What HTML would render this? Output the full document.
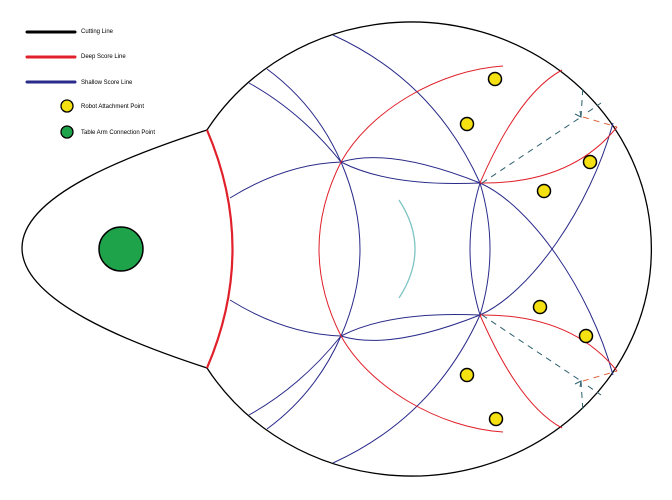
<!DOCTYPE html>
<html><head><meta charset="utf-8"><style>
html,body{margin:0;padding:0;background:#fff;}
svg{display:block;}
text{font-family:"Liberation Sans",sans-serif;font-size:6px;fill:#000;}
</style></head><body>
<svg width="672" height="500" viewBox="0 0 672 500" xmlns="http://www.w3.org/2000/svg">
<!-- legend -->
<line x1="27" y1="32" x2="75" y2="32" stroke="#000" stroke-width="3" stroke-linecap="round"/>
<line x1="27" y1="57" x2="75" y2="57" stroke="#e0202a" stroke-width="3" stroke-linecap="round"/>
<line x1="27" y1="82" x2="75" y2="82" stroke="#2a2a8a" stroke-width="3" stroke-linecap="round"/>
<text x="81" y="33">Cutting Line</text>
<text x="81" y="58">Deep Score Line</text>
<text x="81" y="84">Shallow Score Line</text>
<circle cx="67" cy="106" r="6" fill="#f5e012" stroke="#000" stroke-width="1.3"/>
<text x="81" y="108">Robot Attachment Point</text>
<circle cx="67" cy="132" r="6" fill="#1fa34a" stroke="#000" stroke-width="1.3"/>
<text x="81" y="134">Table Arm Connection Point</text>

<!-- cutting outline -->
<g fill="none" stroke="#000" stroke-width="1.3">
<path d="M207,130 A240,227 0 1 1 207,368"/>
<path d="M207,130 C130,155 22,195 22,248 C22,301 130,343 207,368"/>
</g>
<path d="M207,130 Q258,249 207,368" fill="none" stroke="#e0202a" stroke-width="2.2"/>
<circle cx="121" cy="249" r="22" fill="#1fa34a" stroke="#000" stroke-width="1.5"/>

<!-- shallow score lines -->
<g fill="none" stroke="#2a2a8a" stroke-width="1">
<path d="M249,83 Q301,112 341,162 Q389.5,187 480,183"/>
<path d="M249,415 Q301,386 341,336 Q389.5,311 480,315"/>
<path d="M230,198 Q285,164 341,162 Q389.5,147 480,183 C530,205 590,290 613,375"/>
<path d="M230,300 Q285,334 341,336 Q389.5,351 480,315 C530,293 590,208 613,123"/>
<path d="M267,69 Q316,105 341,162 Q379,250 341,336 Q316,393 267,429"/>
<path d="M333,35 Q434,81 480,183 Q500,249 480,315 Q434,417 333,463"/>
<path d="M480,183 Q460,249 480,315"/>
</g>

<!-- deep score lines -->
<g fill="none" stroke="#e0202a" stroke-width="1">
<path d="M503,66 C440,70 370,110 341,162 Q297,249 341,336 C370,388 440,428 503,432"/>
<path d="M480,183 Q519,93 562,70"/>
<path d="M480,183 Q571,184 617,127"/>
<path d="M480,315 Q519,405 562,428"/>
<path d="M480,315 Q571,314 617,371"/>
</g>

<!-- cyan arc -->
<path d="M399,200 Q431,249 399,298" fill="none" stroke="#7fc4c4" stroke-width="1.3"/>

<!-- dashed -->
<g fill="none" stroke="#2b5f6e" stroke-width="1" stroke-dasharray="6,5">
<path d="M482,183 L581,117"/>
<path d="M581,117 L583,85"/>
<path d="M588,112 L601,103"/>
<path d="M482,315 L581,381"/>
<path d="M581,381 L583,413"/>
<path d="M588,386 L601,395"/>
</g>
<g fill="none" stroke="#2b5f6e" stroke-width="1">
<path d="M575,114 L581,117 L580,111"/>
<path d="M575,384 L581,381 L580,387"/>
</g>
<g fill="none" stroke="#d9603a" stroke-width="1" stroke-dasharray="6,5">
<path d="M583,117 L617,127"/>
<path d="M583,381 L617,371"/>
</g>

<!-- robot points -->
<g fill="#f5e012" stroke="#000" stroke-width="1.5">
<circle cx="495" cy="79" r="6.5"/>
<circle cx="467" cy="124" r="6.5"/>
<circle cx="590" cy="162" r="6.5"/>
<circle cx="544" cy="191" r="6.5"/>
<circle cx="540" cy="307" r="6.5"/>
<circle cx="586" cy="336" r="6.5"/>
<circle cx="467" cy="375" r="6.5"/>
<circle cx="496" cy="419" r="6.5"/>
</g>
</svg>
</body></html>
